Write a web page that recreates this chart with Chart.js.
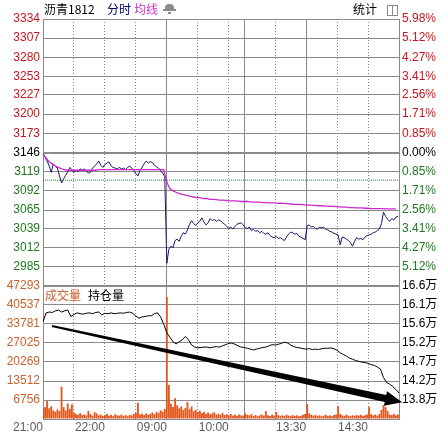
<!DOCTYPE html>
<html>
<head>
<meta charset="utf-8">
<script src="https://cdn.jsdelivr.net/npm/chart.js@4.4.0/dist/chart.umd.min.js"></script>
<style>
  html, body { margin: 0; padding: 0; background: #fff; }
  #wrap { position: relative; width: 443px; height: 433px; overflow: hidden; font-family: "Noto Sans CJK SC", sans-serif; }
  canvas { position: absolute; left: 0; top: 0; }
  .t { position: absolute; font-size: 12px; line-height: 14px; white-space: nowrap; }
  .bell { position: absolute; left: 165px; top: 4px; width: 9px; height: 6px; background: #8a8a8a; border-radius: 4px 4px 1px 1px; }
  .bell:after { content: ""; position: absolute; left: -2px; top: 5px; width: 13px; height: 2px; background: #8a8a8a; }
  .bell:before { content: ""; position: absolute; left: 3px; top: 8px; width: 3px; height: 2px; background: #8a8a8a; }
  .box { position: absolute; left: 387px; top: 5px; width: 9px; height: 9px; border: 1px solid #8a8a8a; }
  .box:after { content: ""; position: absolute; left: 4px; top: 0; width: 1px; height: 9px; background: #8a8a8a; }
</style>
</head>
<body>
<div id="wrap">
  <canvas id="vol" width="443" height="433"></canvas>
  <canvas id="price" width="443" height="433"></canvas>
  <div class="t" style="left:44px;top:2px;color:#000">沥青1812</div>
  <div class="t" style="left:107px;top:2px;color:#000066">分时</div>
  <div class="t" style="left:134px;top:2px;color:#cc33cc">均线</div>
  <div class="bell"></div>
  <div class="t" style="left:353px;top:2px;color:#000">统计</div>
  <div class="box"></div>
  <div class="t" style="left:45px;top:288px;color:#c8622c">成交量</div>
  <div class="t" style="left:88px;top:288px;color:#000">持仓量</div>
</div>
<script>
// minutes of trading: 21:00-23:00, 09:00-10:15, 10:30-11:30, 13:30-15:00
const TOTAL_MIN = 345;
const PRICE_STEP = 2, AVG_STEP = 3, OI_STEP = 3, VOL_STEP = 2;

// axis ticks
const priceTicks = [3334, 3307, 3280, 3253, 3227, 3200, 3173, 3146, 3119, 3092, 3065, 3039, 3012, 2985];
const pctLabels = ['5.98%', '5.12%', '4.27%', '3.41%', '2.56%', '1.71%', '0.85%', '0.00%',
                   '0.85%', '1.71%', '2.56%', '3.41%', '4.27%', '5.12%'];
const PRICE_MIN = 2958, PRICE_MAX = 3334, PREV_SETTLE = 3146;
const volTicks = [0, 6756, 13512, 20269, 27025, 33781, 40537, 47293];
const oiTicks = [133333, 138000, 142667, 147333, 152000, 156667, 161333, 166000];
const oiLabels = ['', '13.8万', '14.2万', '14.7万', '15.2万', '15.6万', '16.1万', '16.6万'];
const timeTickMinutes = [0, 60, 120, 180, 255, 315];
const timeTickLabels = ['21:00', '22:00', '09:00', '10:00', '13:30', '14:30'];
const solidGridMinutes = [0, 120, 195, 255, 345];
const dottedGridMinutes = [30, 60, 90, 150, 180, 225, 285, 315];
const dottedLevel = 3107;

// price every 2 minutes
const priceValues = [
  3145, 3139, 3134, 3127, 3118, 3130, 3126, 3124, 3113, 3103,
  3109, 3114, 3119, 3125, 3122, 3118, 3121, 3119, 3123, 3121,
  3123, 3120, 3117, 3118, 3124, 3127, 3130, 3134, 3128, 3125,
  3129, 3131, 3133, 3127, 3125, 3124, 3123, 3125, 3123, 3124,
  3122, 3125, 3127, 3124, 3121, 3116, 3113, 3121, 3125, 3130,
  3134, 3131, 3133, 3132, 3128, 3126, 3124, 3120, 3117, 3112,
  2990, 3010, 3014, 3012, 3022, 3024, 3021, 3028, 3033, 3031,
  3037, 3045, 3050, 3046, 3043, 3047, 3049, 3054, 3048, 3044,
  3047, 3053, 3050, 3052, 3049, 3051, 3050, 3047, 3045, 3042,
  3039, 3041, 3038, 3042, 3045, 3046, 3047, 3044, 3040, 3039,
  3041, 3036, 3038, 3035, 3036, 3033, 3035, 3032, 3031, 3033,
  3029, 3027, 3026, 3028, 3025, 3026, 3024, 3022, 3027, 3031,
  3034, 3033, 3031, 3032, 3028, 3027, 3025, 3023, 3043, 3044,
  3041, 3042, 3039, 3038, 3041, 3040, 3041, 3038, 3037, 3035,
  3034, 3032, 3031, 3030, 3016, 3027, 3026, 3024, 3022, 3019,
  3014, 3021, 3026, 3024, 3025, 3023, 3027, 3029, 3030, 3031,
  3033, 3034, 3036, 3038, 3046, 3062, 3056, 3052, 3049, 3053,
  3051, 3055, 3056
];

// average price every 3 minutes
const avgValues = [
  3144, 3138, 3133, 3130, 3127, 3125, 3123, 3122, 3121, 3121,
  3121, 3121, 3121, 3121, 3121, 3121, 3121, 3121, 3122, 3122,
  3122, 3122, 3122, 3122, 3122, 3122, 3122, 3122, 3122, 3122,
  3122, 3122, 3122, 3122, 3122, 3122, 3122, 3122, 3122, 3122,
  3104, 3095, 3092, 3090, 3088, 3087, 3086, 3085, 3084, 3083,
  3082.5, 3082, 3081, 3081, 3080, 3080, 3079.5, 3079, 3079, 3078.5,
  3078, 3078, 3078, 3077.5, 3077, 3077, 3077, 3076.5, 3076, 3076,
  3076, 3075.5, 3075.5, 3075, 3075, 3075, 3074.5, 3074.5, 3074, 3074,
  3073.5, 3073, 3073, 3072.5, 3072.5, 3072, 3072, 3071.5, 3071.5, 3071,
  3071, 3070.5, 3070.5, 3070, 3070, 3069.5, 3069.5, 3069, 3069, 3068.5,
  3068.5, 3068, 3068, 3068, 3067.5, 3067.5, 3067, 3067, 3067, 3067,
  3067, 3066.5, 3066.5, 3066.5, 3066.5
];

// open interest every 3 minutes
const oiValues = [
  157200, 159400, 159600, 159500, 159900, 160100, 159600, 159900, 160100, 158500,
  159000, 159400, 159200, 159100, 159300, 159400, 159200, 159500, 159600, 158900,
  159300, 159200, 159400, 159200, 159300, 159400, 159300, 159500, 159600, 159300,
  158600, 158100, 158400, 158500, 158700, 158700, 159200, 159400, 158400, 156600,
  154500, 153400, 152300, 151800, 152300, 152800, 153600, 152800, 151500, 151000,
  150800, 150900, 151000, 151000, 150800, 151000, 151100, 151000, 151300, 151600,
  151900, 152000, 151700, 151300, 151000, 150900, 150700, 150500, 150300, 150500,
  150700, 150900, 151000, 151300, 151600, 151500, 151700, 151900, 152200, 152000,
  151500, 151100, 150900, 150800, 150600, 150500, 150600, 150400, 150500, 150400,
  150600, 150700, 150700, 150800, 150600, 150200, 149600, 149200, 148800, 148300,
  148000, 147700, 147500, 147300, 147200, 147000, 146700, 146500, 146100, 145600,
  143500, 142300, 141900, 141300, 140600, 139700
];

// volume every 2 minutes
const volValues = [
  3500, 4200, 6400, 3800, 4500, 3000, 2600, 3400, 2800, 11500,
  4200, 3000, 5500, 3600, 5200, 2200, 1800, 1500, 2100, 1400,
  1600, 1300, 2900, 1800, 1200, 2400, 2000, 1300, 1600, 1100,
  1400, 1900, 1200, 1500, 1000, 1700, 1300, 1200, 1600, 1100,
  1400, 1000, 1500, 1300, 1800, 2200, 5800, 1600, 1900, 1400,
  2000, 1500, 1800, 2300, 1700, 2500, 2200, 3100, 2600, 3600,
  43400, 12100, 5400, 4300, 7400, 4900, 3800, 4500, 3200, 3900,
  6000, 3500, 4400, 2800, 3300, 2500, 2900, 2100, 2600, 1800,
  2300, 1700, 2000, 2400, 1600, 1900, 1500, 2100, 1400, 1700,
  1300, 1800, 1200, 1500, 1100, 1600, 1300, 1200, 2000, 1500,
  1300, 1700, 1100, 1400, 1000, 1300, 1600, 1200, 2800, 1300,
  1100, 1500, 1200, 2500, 1400, 1000, 1300, 1100, 1500, 1200,
  1000, 1400, 1100, 1300, 1000, 1200, 1500, 1800, 5300, 2000,
  1500, 1200, 1400, 1100, 1300, 1000, 1200, 1500, 1100, 1300,
  1000, 1400, 1600, 4600, 1800, 1300, 1100, 1500, 1200, 1000,
  1300, 1100, 1400, 1200, 1500, 1100, 1300, 1600, 4300, 1700,
  1300, 1500, 1200, 1800, 3300, 5000, 4200, 2800, 1600, 1400,
  1800, 1300, 1600
];

// trend arrow drawn on the volume panel: [minute, volume-axis value]
const arrowFrom = [8.7, 33100];
const arrowTo = [348, 6000];

const GRID = '#8a8a8a';
const RED = '#c8161e';
const GREEN = '#1f7a1f';
const CLEAR = 'rgba(0,0,0,0)';

Chart.defaults.font.family = '"Liberation Sans", Arial, "Noto Sans CJK SC", sans-serif';
Chart.defaults.font.size = 12;

const toPoints = (vals, step) => vals.map((v, i) => ({ x: i * step, y: v }));
const priceColor = v => v > PREV_SETTLE ? RED : (v === PREV_SETTLE ? '#000' : GREEN);
const setTicks = list => scale => { scale.ticks = list.map(v => ({ value: v })); };

function timeAxes(showLabels) {
  return {
    x: {
      type: 'linear', min: 0, max: TOTAL_MIN, offset: false,
      afterBuildTicks: setTicks([...solidGridMinutes, ...dottedGridMinutes].sort((a, b) => a - b)),
      afterFit: s => { s.height = showLabels ? 14 : 0; },
      ticks: {
        display: showLabels, autoSkip: false, maxRotation: 0, align: 'end', padding: 1, color: '#5a5a5a',
        callback: v => { const i = timeTickMinutes.indexOf(v); return i < 0 ? '' : timeTickLabels[i]; }
      },
      grid: { offset: false, drawTicks: false, color: c => solidGridMinutes.includes(c.tick.value) ? GRID : CLEAR },
      border: { display: showLabels, color: GRID }
    },
    x2: {
      type: 'linear', position: 'bottom', min: 0, max: TOTAL_MIN, offset: false,
      afterBuildTicks: setTicks(dottedGridMinutes),
      afterFit: s => { s.height = 0; },
      ticks: { display: false },
      grid: { offset: false, drawTicks: false, color: GRID },
      border: { display: false, dash: [1, 2] }
    }
  };
}

const trendArrow = {
  id: 'trendArrow',
  afterDatasetsDraw(chart) {
    const { ctx, scales: { x, yv } } = chart;
    const x0 = x.getPixelForValue(arrowFrom[0]), y0 = yv.getPixelForValue(arrowFrom[1]);
    const x1 = x.getPixelForValue(arrowTo[0]), y1 = yv.getPixelForValue(arrowTo[1]);
    const len = Math.hypot(x1 - x0, y1 - y0);
    const ux = (x1 - x0) / len, uy = (y1 - y0) / len;
    const nx = -uy, ny = ux;
    const head = 17, hw = 7.5, w0 = 1, w1 = 3.5;
    const bx = x1 - ux * head, by = y1 - uy * head;
    ctx.save();
    ctx.fillStyle = '#000';
    ctx.beginPath();
    ctx.moveTo(x0 + nx * w0, y0 + ny * w0);
    ctx.lineTo(bx + nx * w1, by + ny * w1);
    ctx.lineTo(bx + nx * hw, by + ny * hw);
    ctx.lineTo(x1, y1);
    ctx.lineTo(bx - nx * hw, by - ny * hw);
    ctx.lineTo(bx - nx * w1, by - ny * w1);
    ctx.lineTo(x0 - nx * w0, y0 - ny * w0);
    ctx.closePath();
    ctx.fill();
    ctx.restore();
  }
};

// 价格分时图
new Chart(document.getElementById('price'), {
  type: 'line',
  data: {
    datasets: [
      { data: [{ x: 0, y: dottedLevel }, { x: TOTAL_MIN, y: dottedLevel }], borderColor: '#2e7d2e',
        borderWidth: 1, borderDash: [1, 1], pointRadius: 0, yAxisID: 'yp' },
      { data: toPoints(avgValues, AVG_STEP), borderColor: '#cc2acc', borderWidth: 1.3, pointRadius: 0, yAxisID: 'yp' },
      { data: toPoints(priceValues, PRICE_STEP), borderColor: '#16166e', borderWidth: 1, pointRadius: 0, yAxisID: 'yp' }
    ]
  },
  options: {
    responsive: false, animation: false, events: [],
    layout: { padding: { top: 19, bottom: 147, left: 0, right: 0 } },
    plugins: { legend: { display: false }, tooltip: { enabled: false } },
    scales: {
      ...timeAxes(false),
      yp: {
        type: 'linear', position: 'left', min: PRICE_MIN, max: PRICE_MAX,
        afterBuildTicks: setTicks([PRICE_MIN, ...priceTicks]),
        afterFit: s => { s.width = 43; },
        ticks: { autoSkip: false, padding: 3, color: c => priceColor(c.tick.value),
                 callback: v => v === PRICE_MIN ? '' : String(v) },
        grid: { drawTicks: false, color: GRID,
                lineWidth: c => (c.tick.value === PREV_SETTLE || c.tick.value === PRICE_MIN) ? 2 : 1 },
        border: { color: GRID }
      },
      ypct: {
        type: 'linear', position: 'right', min: PRICE_MIN, max: PRICE_MAX,
        afterBuildTicks: setTicks([PRICE_MIN, ...priceTicks]),
        afterFit: s => { s.width = 44; },
        ticks: { autoSkip: false, padding: 3, color: c => priceColor(c.tick.value),
                 callback: v => { const i = priceTicks.indexOf(v); return i < 0 ? '' : pctLabels[i]; } },
        grid: { drawOnChartArea: false, drawTicks: false },
        border: { color: GRID }
      }
    }
  }
});

// 成交量 / 持仓量
new Chart(document.getElementById('vol'), {
  type: 'bar',
  data: {
    datasets: [
      { type: 'line', data: toPoints(oiValues, OI_STEP), borderColor: '#000', borderWidth: 1,
        pointRadius: 0, yAxisID: 'yoi', order: 0 },
      { type: 'bar', data: toPoints(volValues, VOL_STEP), backgroundColor: '#e2571e',
        barPercentage: 0.9, categoryPercentage: 1, yAxisID: 'yv', order: 1 }
    ]
  },
  options: {
    responsive: false, animation: false, events: [],
    layout: { padding: { top: 286, bottom: 0, left: 0, right: 0 } },
    plugins: { legend: { display: false }, tooltip: { enabled: false } },
    scales: {
      ...timeAxes(true),
      yv: {
        type: 'linear', position: 'left', min: 0, max: volTicks[volTicks.length - 1],
        afterBuildTicks: setTicks(volTicks),
        afterFit: s => { s.width = 43; },
        ticks: { autoSkip: false, padding: 3, color: '#c8622c', callback: v => v === 0 ? '' : String(v) },
        grid: { drawTicks: false, color: GRID },
        border: { color: GRID }
      },
      yoi: {
        type: 'linear', position: 'right', min: oiTicks[0], max: oiTicks[oiTicks.length - 1],
        afterBuildTicks: setTicks(oiTicks),
        afterFit: s => { s.width = 44; },
        ticks: { autoSkip: false, padding: 3, color: '#000',
                 callback: v => { const i = oiTicks.indexOf(v); return i < 0 ? '' : oiLabels[i]; } },
        grid: { drawOnChartArea: false, drawTicks: false },
        border: { color: GRID }
      }
    }
  },
  plugins: [trendArrow]
});
</script>
</body>
</html>
